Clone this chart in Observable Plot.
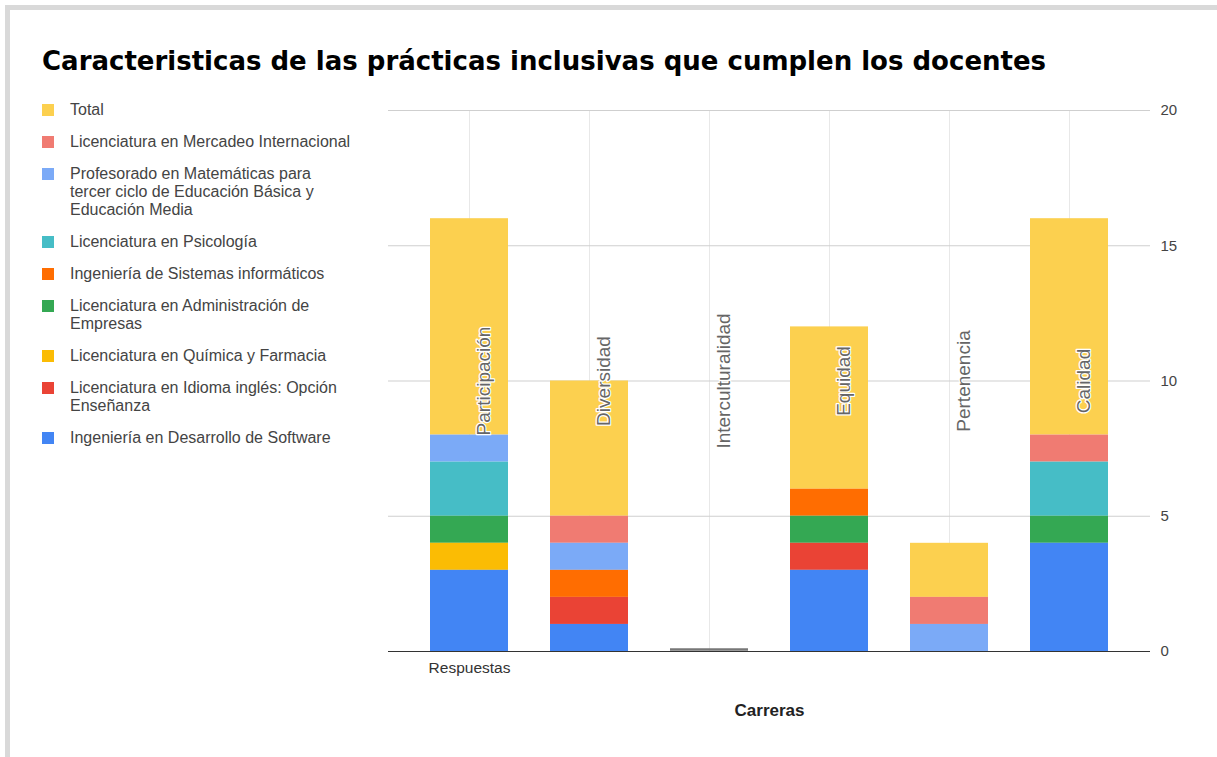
<!DOCTYPE html>
<html>
<head>
<meta charset="utf-8">
<script src="https://cdn.jsdelivr.net/npm/d3@7"></script>
<script src="https://cdn.jsdelivr.net/npm/@observablehq/plot@0.6"></script>
<style>
  html, body { margin: 0; padding: 0; background: #fff; }
  body { width: 1217px; height: 757px; position: relative; overflow: hidden; font-family: "Liberation Sans", Arial, sans-serif; }
  #frameTop { position: absolute; left: 5px; top: 5px; width: 1212px; height: 5px; background: #d9d9d9; }
  #frameLeft { position: absolute; left: 5px; top: 5px; width: 5px; height: 752px; background: #d9d9d9; }
  #title { position: absolute; left: 42px; top: 45px; font-family: "DejaVu Sans", Arial, sans-serif; font-weight: bold; font-size: 26px; line-height: 32px; color: #000; white-space: nowrap; }
  #legend { position: absolute; left: 42px; top: 101px; width: 320px; }
  .item { display: flex; align-items: flex-start; margin-bottom: 14px; }
  .sw { width: 12px; height: 12px; flex: 0 0 12px; margin-top: 3px; margin-right: 16px; }
  .lab { font-size: 16px; line-height: 18px; color: #444; width: 284px; }
  #chart { position: absolute; left: 360px; top: 90px; }
</style>
</head>
<body>
<div id="frameTop"></div>
<div id="frameLeft"></div>
<div id="title">Caracteristicas de las prácticas inclusivas que cumplen los docentes</div>
<div id="legend"></div>
<div id="chart"></div>
<script>
const categories = ["Participación", "Diversidad", "Interculturalidad", "Equidad", "Pertenencia", "Calidad"];
const seriesNames = [
  "Total",
  "Licenciatura en Mercadeo Internacional",
  "Profesorado en Matemáticas para tercer ciclo de Educación Básica y Educación Media",
  "Licenciatura en Psicología",
  "Ingeniería de Sistemas informáticos",
  "Licenciatura en Administración de Empresas",
  "Licenciatura en Química y Farmacia",
  "Licenciatura en Idioma inglés: Opción Enseñanza",
  "Ingeniería en Desarrollo de Software"
];
const seriesColors = ["#FCD04F", "#F07B72", "#7BAAF7", "#46BDC6", "#FF6D01", "#34A853", "#FBBC04", "#EA4335", "#4285F4"];
// values per series, in category order
const totalValues       = [8, 5, 0, 6, 2, 8];
const mercadeoValues    = [0, 1, 0, 0, 1, 1];
const matematicasValues = [1, 1, 0, 0, 1, 0];
const psicologiaValues  = [2, 0, 0, 0, 0, 2];
const sistemasValues    = [0, 1, 0, 1, 0, 0];
const administracionValues = [1, 0, 0, 1, 0, 1];
const quimicaValues     = [1, 0, 0, 0, 0, 0];
const idiomaValues      = [0, 1, 0, 1, 0, 0];
const softwareValues    = [3, 1, 0, 3, 0, 4];
const yTicks = [0, 5, 10, 15, 20];
const xTickLabel = "Respuestas";
const xTitle = "Carreras";

const seriesValues = [totalValues, mercadeoValues, matematicasValues, psicologiaValues, sistemasValues,
  administracionValues, quimicaValues, idiomaValues, softwareValues];

const rows = [];
seriesNames.forEach((s, i) => {
  categories.forEach((c, j) => rows.push({series: s, cat: c, value: seriesValues[i][j]}));
});
const totals = categories.map((c, j) => d3.sum(seriesValues, v => v[j]));
const zeroCats = categories.filter((c, j) => totals[j] === 0);
const yMax = d3.max(yTicks);

// legend
const legend = document.getElementById("legend");
seriesNames.forEach((s, i) => {
  const it = document.createElement("div");
  it.className = "item";
  const sw = document.createElement("div");
  sw.className = "sw";
  sw.style.background = seriesColors[i];
  const lab = document.createElement("div");
  lab.className = "lab";
  lab.textContent = s;
  it.appendChild(sw); it.appendChild(lab);
  legend.appendChild(it);
});

const chart = Plot.plot({
  width: 857,
  height: 650,
  marginLeft: 28,
  marginRight: 67,
  marginTop: 20,
  marginBottom: 89,
  style: {fontFamily: "'Liberation Sans', Arial, sans-serif", fontSize: "15px", background: "transparent"},
  x: {domain: categories, paddingInner: 0.35, paddingOuter: 0.34, axis: null},
  y: {domain: [0, yMax], axis: null},
  color: {domain: seriesNames, range: seriesColors},
  marks: [
    Plot.gridX(categories, {x: d => d, stroke: "#e8e8e8", strokeOpacity: 1}),
    Plot.gridY(yTicks.filter(t => t > 0), {y: d => d, stroke: "#cfcfcf", strokeOpacity: 1}),
    Plot.barY(rows, {x: "cat", y: "value", fill: "series", order: seriesNames.slice().reverse()}),
    Plot.tickY(zeroCats, {x: d => d, y: 0, stroke: "#777", strokeWidth: 2.5, dy: -2}),
    Plot.ruleY([0], {stroke: "#333", strokeWidth: 1}),
    Plot.axisY({anchor: "right", ticks: yTicks, tickSize: 0, tickPadding: 10, label: null, fill: "#444", fontSize: 15}),
    Plot.text(categories, {x: d => d, y: yMax / 2, text: d => d, rotate: -90, dx: 14, fill: "#666", stroke: "white", strokeWidth: 2.5, paintOrder: "stroke", fontSize: 19}),
    Plot.text([xTickLabel], {x: () => categories[0], frameAnchor: "bottom", dy: 21, text: d => d, fill: "#333", fontSize: 15.5}),
    Plot.text([xTitle], {frameAnchor: "bottom", dy: 64, text: d => d, fill: "#222", fontWeight: "bold", fontSize: 17})
  ]
});
document.getElementById("chart").appendChild(chart);
</script>
</body>
</html>
